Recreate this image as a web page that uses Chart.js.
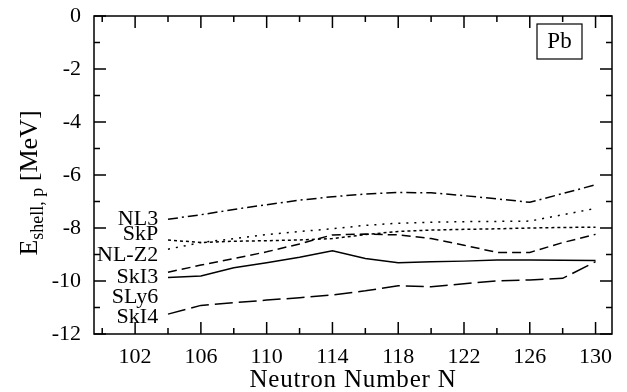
<!DOCTYPE html>
<html>
<head>
<meta charset="utf-8">
<script src="https://cdn.jsdelivr.net/npm/chart.js@4.4.0/dist/chart.umd.min.js"></script>
<style>
    html, body { margin: 0; padding: 0; background: #fff; }
    #wrap { width: 627px; height: 392px; }
</style>
</head>
<body>
<div id="wrap"><canvas id="shell-chart" width="627" height="392"></canvas></div>
<script>
// Neutron numbers where the shell correction was computed
const neutronNumbers = [104, 106, 108, 110, 112, 114, 116, 118, 120, 122, 124, 126, 128, 130];

// Proton shell correction energies (MeV)
const nl3  = [-7.67, -7.50, -7.30, -7.12, -6.95, -6.82, -6.72, -6.66, -6.67, -6.78, -6.90, -7.03, -6.70, -6.37];
const skp  = [-8.45, -8.55, -8.50, -8.48, -8.45, -8.40, -8.25, -8.13, -8.08, -8.05, -8.03, -8.00, -7.98, -7.97];
const nlz2 = [-8.80, -8.55, -8.40, -8.25, -8.13, -8.03, -7.90, -7.82, -7.78, -7.76, -7.75, -7.74, -7.50, -7.26];
const ski3 = [-9.67, -9.40, -9.15, -8.90, -8.60, -8.26, -8.23, -8.26, -8.40, -8.65, -8.92, -8.92, -8.55, -8.24];
const sly6 = [-9.87, -9.81, -9.50, -9.31, -9.10, -8.86, -9.15, -9.31, -9.27, -9.25, -9.21, -9.21, -9.22, -9.23];
const ski4 = [-11.25, -10.92, -10.82, -10.72, -10.63, -10.53, -10.37, -10.18, -10.22, -10.10, -10.00, -9.96, -9.90, -9.27];

// Tick labels
const xTickLabels = [102, 106, 110, 114, 118, 122, 126, 130];
const yTickLabels = [0, -2, -4, -6, -8, -10, -12];

// Force names written to the left of the curves, with the value they sit at
const seriesNames = ['NL3', 'SkP', 'NL-Z2', 'SkI3', 'SLy6', 'SkI4'];
const nameLevels  = [-7.67, -8.23, -9.02, -9.85, -10.6, -11.35];

const FONT = '"Liberation Serif", "DejaVu Serif", serif';

function toPoints(values) {
    return neutronNumbers.map((n, i) => ({ x: n, y: values[i] }));
}

function lineSet(label, values, dash) {
    return {
        label: label,
        data: toPoints(values),
        borderColor: '#000',
        borderWidth: 1.5,
        borderDash: dash,
        pointRadius: 0,
        fill: false,
        tension: 0
    };
}

// Frame, inward ticks, titles, labels and the Pb box
const decorPlugin = {
    id: 'decor',
    afterDraw(chart) {
        const ctx = chart.ctx;
        const a = chart.chartArea;
        const xs = chart.scales.x;
        const ys = chart.scales.y;
        ctx.save();
        ctx.strokeStyle = '#000';
        ctx.fillStyle = '#000';
        ctx.lineWidth = 1.5;
        ctx.setLineDash([]);

        // frame
        ctx.strokeRect(a.left, a.top, a.right - a.left, a.bottom - a.top);

        // x ticks (every 2, long ones at labels)
        ctx.beginPath();
        for (let n = 100; n <= 130; n += 2) {
            const px = xs.getPixelForValue(n);
            const len = xTickLabels.includes(n) ? 12 : 6;
            ctx.moveTo(px, a.bottom); ctx.lineTo(px, a.bottom - len);
            ctx.moveTo(px, a.top); ctx.lineTo(px, a.top + len);
        }
        // y ticks (every 1, long ones at labels)
        for (let v = -12; v <= 0; v += 1) {
            const py = ys.getPixelForValue(v);
            const len = yTickLabels.includes(v) ? 12 : 6;
            ctx.moveTo(a.left, py); ctx.lineTo(a.left + len, py);
            ctx.moveTo(a.right, py); ctx.lineTo(a.right - len, py);
        }
        ctx.stroke();

        // curve names
        ctx.font = '22px ' + FONT;
        ctx.textAlign = 'right';
        ctx.textBaseline = 'middle';
        const nameX = xs.getPixelForValue(103.4);
        seriesNames.forEach((name, i) => {
            ctx.fillText(name, nameX, ys.getPixelForValue(nameLevels[i]));
        });

        // Pb box
        ctx.lineWidth = 1.2;
        ctx.strokeRect(537, 24, 45, 35);
        ctx.textAlign = 'center';
        ctx.font = '23px ' + FONT;
        ctx.fillText('Pb', 559.5, 42);

        // x title
        ctx.font = '25px ' + FONT;
        ctx.letterSpacing = '0.8px';
        ctx.textBaseline = 'alphabetic';
        ctx.fillText('Neutron Number N', (a.left + a.right) / 2, 387);
        ctx.letterSpacing = '0px';

        // y title with subscript, rotated
        ctx.translate(37, 183);
        ctx.rotate(-Math.PI / 2);
        const big = '26px ' + FONT;
        const small = '18px ' + FONT;
        ctx.font = big;
        const wE = ctx.measureText('E').width;
        const wU = ctx.measureText(' [MeV]').width;
        ctx.font = small;
        const wS = ctx.measureText('shell, p').width;
        let x0 = -(wE + wS + wU) / 2;
        ctx.textAlign = 'left';
        ctx.font = big;
        ctx.fillText('E', x0, 0);
        ctx.font = small;
        ctx.fillText('shell, p', x0 + wE, 6);
        ctx.font = big;
        ctx.fillText(' [MeV]', x0 + wE + wS, 0);
        ctx.restore();
    }
};

document.addEventListener('DOMContentLoaded', function() {
    const ctx = document.getElementById('shell-chart').getContext('2d');
    new Chart(ctx, {
        type: 'line',
        data: {
            datasets: [
                lineSet('NL3', nl3, [10, 4, 2, 4]),
                lineSet('SkP', skp, [3, 3]),
                lineSet('NL-Z2', nlz2, [2, 6]),
                lineSet('SkI3', ski3, [9, 5]),
                lineSet('SLy6', sly6, []),
                lineSet('SkI4', ski4, [18, 6])
            ]
        },
        options: {
            responsive: false,
            animation: false,
            layout: { padding: { left: 0, top: 16, right: 15, bottom: 0 } },
            plugins: {
                legend: { display: false },
                tooltip: { enabled: false }
            },
            scales: {
                x: {
                    type: 'linear',
                    min: 99.5,
                    max: 131,
                    grid: { display: false, drawTicks: false },
                    border: { display: false },
                    afterBuildTicks: function(scale) {
                        scale.ticks = xTickLabels.map(v => ({ value: v }));
                    },
                    afterFit: function(scale) {
                        scale.height = 58;
                        scale.paddingLeft = 0;
                        scale.paddingRight = 0;
                    },
                    ticks: {
                        color: '#000',
                        padding: 10,
                        maxRotation: 0,
                        autoSkip: false,
                        font: { family: FONT, size: 22 },
                        callback: v => String(v)
                    }
                },
                y: {
                    min: -12,
                    max: 0,
                    grid: { display: false, drawTicks: false },
                    border: { display: false },
                    afterBuildTicks: function(scale) {
                        scale.ticks = yTickLabels.map(v => ({ value: v }));
                    },
                    afterFit: function(scale) {
                        scale.width = 94;
                        scale.paddingTop = 0;
                        scale.paddingBottom = 0;
                    },
                    ticks: {
                        color: '#000',
                        padding: 13,
                        font: { family: FONT, size: 22 },
                        callback: v => String(v)
                    }
                }
            }
        },
        plugins: [decorPlugin]
    });
});
</script>
</body>
</html>
